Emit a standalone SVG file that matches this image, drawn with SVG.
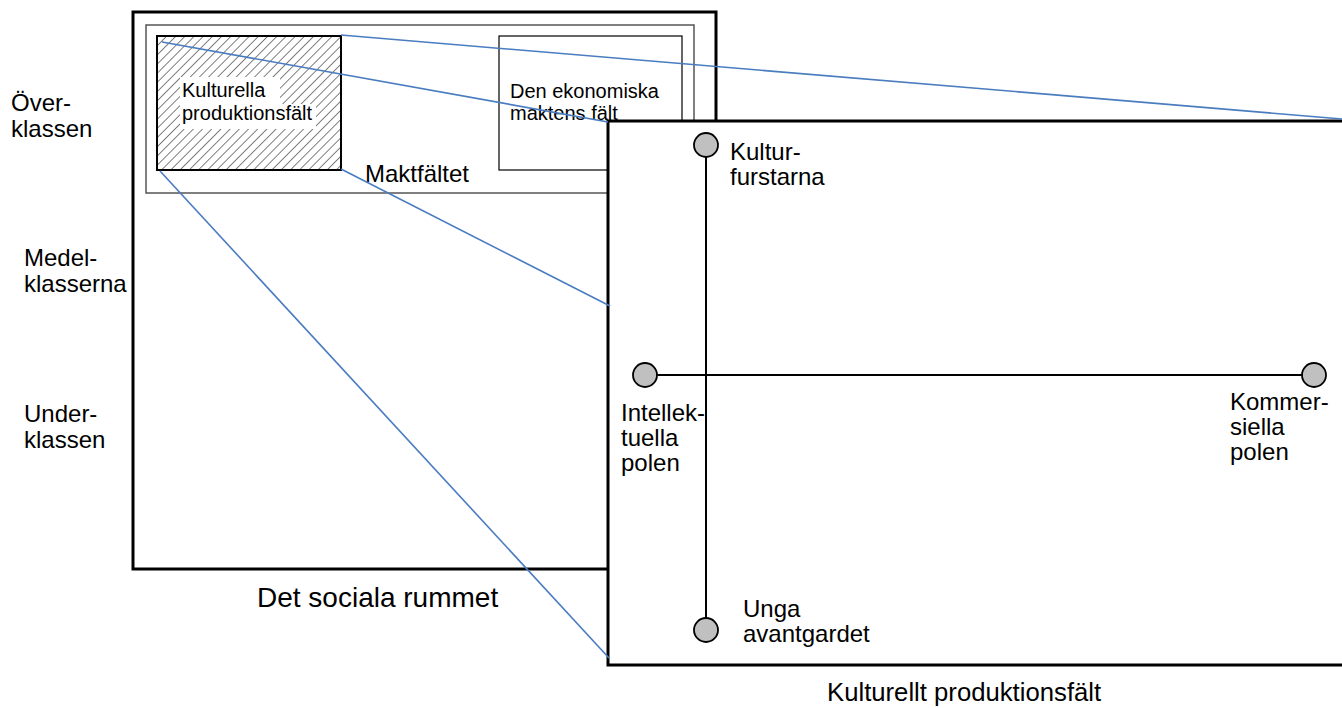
<svg xmlns="http://www.w3.org/2000/svg" width="1342" height="708" viewBox="0 0 1342 708">
<style>
text{font-family:"Liberation Sans",Arial,sans-serif;fill:#000}
.lbl{font-size:24px}
.sm{font-size:20px}
.big{font-size:28px}
.big2{font-size:25.7px}
.conn{stroke:#4a7cc0;stroke-width:1.6;fill:none}
.axis{stroke:#000;stroke-width:2;fill:none}
.pole{fill:#c0c0c0;stroke:#000;stroke-width:1.8}
</style>
<defs>
<pattern id="hatch" patternUnits="userSpaceOnUse" width="6.5" height="6.5" patternTransform="rotate(45)">
<line x1="0" y1="0" x2="0" y2="6.5" stroke="#000" stroke-width="1"/>
</pattern>
</defs>
<rect width="1342" height="708" fill="#fff"/>
<g id="class-labels">
<text class="lbl" x="11" y="111">Över-</text>
<text class="lbl" x="11" y="137">klassen</text>
<text class="lbl" x="24" y="266">Medel-</text>
<text class="lbl" x="24" y="292">klasserna</text>
<text class="lbl" x="24" y="422">Under-</text>
<text class="lbl" x="24" y="448">klassen</text>
</g>
<g id="sociala-rummet">
<rect x="133" y="12" width="583" height="557" fill="#fff" stroke="#000" stroke-width="3"/>
<text class="big" x="257" y="607">Det sociala rummet</text>
</g>
<g id="maktfaltet">
<rect x="146" y="25" width="548" height="168" fill="none" stroke="#555" stroke-width="1.5"/>
<text class="lbl" x="365" y="182">Maktfältet</text>
</g>
<g id="kulturella-produktionsfalt">
<rect x="157" y="36" width="184" height="134" fill="url(#hatch)" stroke="#000" stroke-width="2"/>
<rect x="180" y="77" width="100" height="27" fill="#fff"/>
<rect x="180" y="104" width="136" height="25" fill="#fff"/>
<text class="sm" x="182" y="97">Kulturella</text>
<text class="sm" x="182" y="120">produktionsfält</text>
</g>
<g id="ekonomiska-makten">
<rect x="499" y="36" width="183" height="134" fill="none" stroke="#000" stroke-width="1.2"/>
<text class="sm" x="510" y="98">Den ekonomiska</text>
<text class="sm" x="510" y="120">maktens fält</text>
</g>
<g id="kulturellt-produktionsfalt">
<rect x="608" y="121" width="740" height="544" fill="#fff" stroke="#000" stroke-width="3"/>
<text class="big2" x="827" y="701">Kulturellt produktionsfält</text>
</g>
<g id="connectors">
<line class="conn" x1="341" y1="35" x2="1342" y2="119"/>
<line class="conn" x1="162" y1="42" x2="608" y2="122"/>
<line class="conn" x1="341" y1="169" x2="610" y2="306"/>
<line class="conn" x1="160" y1="171" x2="609" y2="658"/>
<line class="axis" x1="706" y1="145" x2="706" y2="630"/>
<line class="axis" x1="645" y1="375" x2="1314" y2="375"/>
</g>
<g id="kulturfurstarna">
<circle class="pole" cx="706" cy="145" r="12"/>
<text class="lbl" x="730" y="160">Kultur-</text>
<text class="lbl" x="730" y="185">furstarna</text>
</g>
<g id="unga-avantgardet">
<circle class="pole" cx="706" cy="630" r="12"/>
<text class="lbl" x="743" y="617">Unga</text>
<text class="lbl" x="743" y="642">avantgardet</text>
</g>
<g id="intellektuella-polen">
<circle class="pole" cx="645" cy="375" r="12"/>
<text class="lbl" x="621" y="421">Intellek-</text>
<text class="lbl" x="621" y="446">tuella</text>
<text class="lbl" x="621" y="471">polen</text>
</g>
<g id="kommersiella-polen">
<circle class="pole" cx="1314" cy="375" r="12"/>
<text class="lbl" x="1230" y="410">Kommer-</text>
<text class="lbl" x="1230" y="435">siella</text>
<text class="lbl" x="1230" y="460">polen</text>
</g>
</svg>
